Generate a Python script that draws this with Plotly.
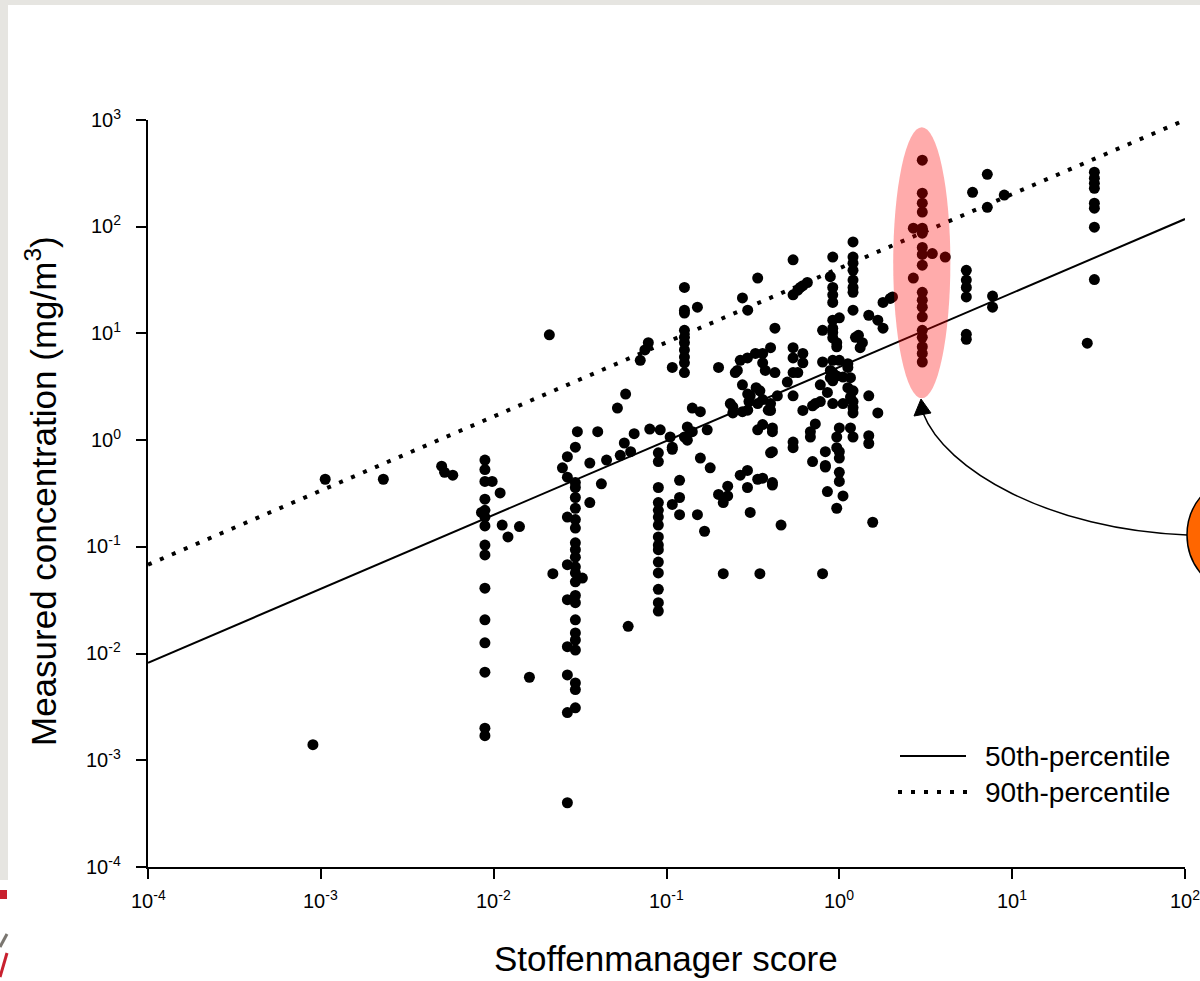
import math
import plotly.graph_objects as go

# ---------------- data ----------------
# Stoffenmanager score (x) and measured concentration in mg/m3 (y), by column group
left_x = [0.0009, 0.00106, 0.0023, 0.005, 0.0052, 0.0058]
left_y = [0.0014, 0.43, 0.43, 0.57, 0.50, 0.47]

c01_x = [0.0089, 0.0089, 0.0089, 0.0089, 0.0089, 0.0089, 0.0089, 0.0089, 0.0089, 0.0089,
         0.0089, 0.0089, 0.0089, 0.0089, 0.0089, 0.0085, 0.0098, 0.0109, 0.0112, 0.0121,
         0.0141, 0.0161, 0.021, 0.022]
c01_y = [0.65, 0.53, 0.41, 0.28, 0.22, 0.19, 0.157, 0.104, 0.084, 0.041,
         0.0207, 0.0126, 0.0067, 0.002, 0.0017, 0.21, 0.41, 0.32, 0.16, 0.124,
         0.155, 0.006, 9.7, 0.056]

c03_x = [0.0297, 0.0297, 0.0297, 0.0297, 0.0297, 0.0297, 0.0297, 0.0297, 0.0297, 0.0297,
         0.0297, 0.0297, 0.0297, 0.0297, 0.0297, 0.0297, 0.0297, 0.0297, 0.0297, 0.0297,
         0.0297, 0.0297, 0.0267, 0.0267, 0.0267, 0.0267, 0.0267, 0.0267, 0.0267, 0.0267,
         0.0267, 0.025, 0.0326]
c03_y = [0.86, 0.40, 0.36, 0.29, 0.23, 0.18, 0.15, 0.109, 0.094, 0.080,
         0.065, 0.057, 0.047, 0.035, 0.030, 0.0207, 0.0156, 0.0134, 0.0108, 0.0053,
         0.0046, 0.0031, 0.70, 0.45, 0.19, 0.068, 0.032, 0.0116, 0.0063, 0.0028,
         0.0004, 0.55, 0.051]

mid1_x = [0.036, 0.045, 0.036, 0.042, 0.0305, 0.040, 0.057, 0.054, 0.062, 0.065,
          0.080, 0.060, 0.052, 0.058, 0.0705, 0.0785, 0.075]
mid1_y = [0.61, 0.65, 0.26, 0.39, 1.2, 1.2, 0.94, 0.72, 0.78, 1.15,
          1.27, 0.018, 2.0, 2.7, 5.6, 8.2, 7.0]

c09_x = [0.0897, 0.0897, 0.0897, 0.0897, 0.0897, 0.0897, 0.0897, 0.0897, 0.0897, 0.0897,
         0.0897, 0.0897, 0.0897, 0.0897, 0.0897]
c09_y = [0.76, 0.63, 0.36, 0.26, 0.22, 0.19, 0.16, 0.124, 0.104, 0.094,
         0.072, 0.057, 0.040, 0.030, 0.025]

c1_x = [0.119, 0.119, 0.108, 0.119, 0.151, 0.108, 0.132, 0.092, 0.105, 0.108,
        0.166, 0.132, 0.141, 0.157, 0.172, 0.157, 0.179, 0.127, 0.141,
        0.127, 0.127, 0.127, 0.127, 0.127, 0.127, 0.127, 0.127, 0.127, 0.127,
        0.151, 0.108, 0.20]
c1_y = [0.42, 0.29, 0.25, 0.20, 0.20, 0.86, 1.0, 1.25, 1.07, 0.82,
        0.14, 1.33, 2.0, 1.85, 1.25, 0.68, 0.55, 1.07, 1.2,
        27, 16.5, 15.5, 10.7, 9.2, 8.2, 7.0, 6.0, 5.3, 4.3,
        17.6, 4.8, 4.8]

low_x = [0.213, 0.347, 0.80, 0.20, 0.226, 0.213, 0.226, 0.267, 0.294, 0.294,
         0.305, 0.337, 0.41, 0.46, 0.40, 0.337, 0.41, 0.54, 0.68, 0.70,
         0.83, 0.853, 0.36, 0.41, 0.36, 0.41, 0.41, 0.54, 0.68, 0.726,
         0.83, 0.83]
low_y = [0.056, 0.056, 0.056, 0.31, 0.30, 0.26, 0.37, 0.47, 0.52, 0.36,
         0.21, 0.43, 0.40, 0.16, 0.76, 1.25, 1.3, 0.96, 1.07, 0.63,
         0.58, 0.33, 0.44, 0.38, 1.4, 1.2, 0.78, 0.85, 1.2, 1.42,
         0.78, 0.56]

one_x = [0.966, 1.0, 1.0, 1.05, 0.966, 1.56, 1.48, 1.48, 1.67, 1.0,
         1.16, 1.2, 0.966, 1.0, 1.0, 1.2]
one_y = [0.85, 0.50, 0.41, 0.30, 0.23, 0.17, 1.1, 0.93, 1.8, 1.3,
         1.3, 1.07, 1.07, 0.78, 0.68, 1.8]

band_x = [0.242, 0.242, 0.275, 0.30, 0.305, 0.33, 0.347, 0.36, 0.40, 0.40,
          0.424, 0.275, 0.438, 0.50, 0.54, 0.575, 0.615, 0.70, 0.776, 0.776,
          0.853, 0.916, 0.916, 0.966, 1.05, 1.12, 1.2, 1.2, 1.48, 0.234,
          0.295, 0.337, 0.388, 0.54, 0.54, 0.25, 0.267, 0.294, 0.327, 0.36,
          0.40, 0.36, 0.373, 0.257, 0.615, 0.615, 0.80, 0.916, 0.966, 0.916,
          0.887, 1.0, 1.12, 1.16, 0.887, 0.916, 1.05, 1.12, 1.16, 1.2,
          0.726, 0.295, 0.54]
band_y = [2.05, 1.8, 1.85, 2.3, 2.6, 3.1, 2.9, 2.4, 2.2, 1.9,
          4.3, 3.3, 2.6, 3.5, 2.6, 4.3, 1.9, 2.1, 3.3, 2.3,
          2.8, 3.6, 4.3, 4.0, 3.9, 5.2, 2.9, 2.3, 2.6, 2.2,
          1.91, 2.2, 1.91, 7.35, 5.9, 4.3, 5.6, 5.9, 6.5, 6.5,
          7.35, 5.3, 4.5, 4.5, 6.5, 5.3, 5.4, 9.1, 7.5, 5.6,
          4.5, 5.6, 4.8, 3.85, 3.85, 2.2, 2.2, 3.1, 2.53, 2.02,
          2.2, 2.7, 4.3]

high_x = [0.337, 0.275, 0.295, 0.424, 0.54, 0.54, 0.594, 0.653, 0.575, 0.615,
          0.887, 0.916, 0.916, 0.916, 0.916, 0.916, 0.916, 0.916, 0.80, 0.966,
          1.0, 1.2, 1.2, 1.2, 1.2, 1.2, 1.2, 1.2, 1.2, 1.24,
          1.29, 1.36, 1.32, 1.48, 1.67, 1.79, 1.79, 1.97]
high_y = [33, 21.5, 16.5, 11.2, 49, 23, 27, 30, 25.4, 28,
          34, 27, 23, 19.5, 13.3, 52, 11.2, 10.2, 10.7, 8.2,
          14, 72, 52, 45.5, 39, 31.6, 27, 24.3, 16.5, 9.2,
          9.6, 8.2, 7.35, 14.8, 13.3, 11.2, 19.5, 21.3]

c3_x = [3.02, 3.02, 3.02, 3.02, 3.02, 3.02, 3.02, 3.02, 3.02, 3.02,
        3.02, 3.02, 3.02, 3.02, 3.02, 3.02, 3.02, 3.02, 2.68, 2.68,
        3.45, 4.1, 2.03]
c3_y = [420, 206, 166, 137, 97, 87, 64, 55, 43.6, 24.3,
        20.5, 17.6, 14.3, 10.7, 9.2, 7.5, 6.5, 5.4, 97, 33,
        56, 52, 22]

right_x = [5.43, 5.43, 5.43, 5.43, 5.43, 5.43, 7.7, 7.7, 7.18, 5.9,
           7.18, 9.0, 29.9, 29.9, 29.9, 29.9, 29.9, 29.9, 29.9, 29.9, 27.2]
right_y = [39, 31.6, 27, 22, 9.8, 8.8, 22.4, 17.6, 310, 210,
           152, 198, 324, 285, 255, 229, 166, 149, 99, 32, 8.1]

# fitted percentile lines (end points)
fit_x = [1e-4, 1e2]
p50_y = [0.0082, 118]
p90_y = [0.068, 1000]

# highlighted group (ellipse around score ~3)
ell_x = [2.05, 4.39]
ell_y = [2.47, 855]

x_ticks = [1e-4, 1e-3, 1e-2, 1e-1, 1e0, 1e1, 1e2]
x_ticktext = ["10<sup>-4</sup>", "10<sup>-3</sup>", "10<sup>-2</sup>", "10<sup>-1</sup>",
              "10<sup>0</sup>", "10<sup>1</sup>", "10<sup>2</sup>"]
y_ticks = [1e-4, 1e-3, 1e-2, 1e-1, 1e0, 1e1, 1e2, 1e3]
y_ticktext = ["10<sup>-4</sup>", "10<sup>-3</sup>", "10<sup>-2</sup>", "10<sup>-1</sup>",
              "10<sup>0</sup>", "10<sup>1</sup>", "10<sup>2</sup>", "10<sup>3</sup>"]

# ---------------- layout geometry ----------------
W, H = 1200, 981
ML, MR, MT, MB = 148, 15, 120, 114
PW = W - ML - MR
PH = H - MT - MB


def px(xp):
    return (xp - ML) / PW


def py(yp):
    return (H - MB - yp) / PH


FONT = "Liberation Sans, Arial, sans-serif"
DOT = "4px,9px"
TICK_SIZE = 20

all_x = left_x + c01_x + c03_x + mid1_x + c09_x + c1_x + low_x + one_x + band_x + high_x + c3_x + right_x
all_y = left_y + c01_y + c03_y + mid1_y + c09_y + c1_y + low_y + one_y + band_y + high_y + c3_y + right_y

fig = go.Figure()
fig.add_trace(go.Scatter(x=fit_x, y=p50_y, mode="lines",
                         line=dict(color="black", width=2), showlegend=False, hoverinfo="skip"))
fig.add_trace(go.Scatter(x=fit_x, y=p90_y, mode="lines",
                         line=dict(color="black", width=4, dash=DOT), showlegend=False, hoverinfo="skip"))
fig.add_trace(go.Scatter(x=all_x, y=all_y, mode="markers",
                         marker=dict(size=11, color="black", line=dict(width=0)),
                         showlegend=False, hoverinfo="skip"))

shapes = []
# slide frame strips
shapes.append(dict(type="rect", xref="paper", yref="paper", x0=px(0), x1=px(1200), y0=py(5), y1=py(0),
                   fillcolor="#e6e5e1", line_width=0, layer="below"))
shapes.append(dict(type="rect", xref="paper", yref="paper", x0=px(0), x1=px(8), y0=py(880), y1=py(0),
                   fillcolor="#e6e5e1", line_width=0, layer="below"))
# logo fragments bottom-left
shapes.append(dict(type="rect", xref="paper", yref="paper", x0=px(0), x1=px(7), y0=py(899), y1=py(890),
                   fillcolor="#c8202e", line_width=0, layer="above"))
shapes.append(dict(type="path", xref="paper", yref="paper",
                   path=f"M {px(0)},{py(947)} L {px(7)},{py(934)}",
                   line=dict(color="#7a7670", width=3), layer="above"))
shapes.append(dict(type="path", xref="paper", yref="paper",
                   path=f"M {px(0)},{py(977)} L {px(7)},{py(953)}",
                   line=dict(color="#c8202e", width=3), layer="above"))
# highlight ellipse
shapes.append(dict(type="circle", xref="x", yref="y", x0=ell_x[0], x1=ell_x[1], y0=ell_y[0], y1=ell_y[1],
                   fillcolor="rgba(255,0,0,0.33)", line_width=0, layer="above"))
# orange callout circle (mostly off the right edge)
shapes.append(dict(type="circle", xref="paper", yref="paper",
                   x0=px(1187), x1=px(1187 + 120), y0=py(535 + 60), y1=py(535 - 60),
                   fillcolor="#ff6600", line=dict(color="black", width=1.5), layer="above"))
# curved arrow
shapes.append(dict(type="path", xref="paper", yref="paper",
                   path=(f"M {px(1187)},{py(535)} C {px(1050)},{py(530)} {px(945)},{py(470)} "
                         f"{px(923)},{py(413)}"),
                   line=dict(color="black", width=1.5), layer="above"))
shapes.append(dict(type="path", xref="paper", yref="paper",
                   path=f"M {px(921)},{py(399)} L {px(914)},{py(416)} L {px(931)},{py(413)} Z",
                   fillcolor="black", line=dict(color="black", width=1), layer="above"))
# legend samples
shapes.append(dict(type="line", xref="paper", yref="paper", x0=px(900), x1=px(966), y0=py(756), y1=py(756),
                   line=dict(color="black", width=2)))
shapes.append(dict(type="line", xref="paper", yref="paper", x0=px(898), x1=px(968), y0=py(792), y1=py(792),
                   line=dict(color="black", width=4, dash=DOT)))

annotations = [
    dict(text="50th-percentile", x=px(983), y=py(756), xref="paper", yref="paper",
         xanchor="left", yanchor="middle", showarrow=False, font=dict(size=28, color="black", family=FONT)),
    dict(text="90th-percentile", x=px(983), y=py(792), xref="paper", yref="paper",
         xanchor="left", yanchor="middle", showarrow=False, font=dict(size=28, color="black", family=FONT)),
    dict(text="Stoffenmanager score", x=px(666), y=py(980), xref="paper", yref="paper",
         xanchor="center", yanchor="bottom", showarrow=False, font=dict(size=35, color="black", family=FONT)),
    dict(text="Measured concentration (mg/m<sup>3</sup>)", x=px(41), y=py(491), xref="paper", yref="paper",
         xanchor="center", yanchor="middle", textangle=-90, showarrow=False,
         font=dict(size=35, color="black", family=FONT)),
]

# tick labels placed through the axes (log axes take log10 positions for annotations)
for v, t in zip(x_ticks, x_ticktext):
    annotations.append(dict(text=t, x=math.log10(v), xref="x", y=py(899), yref="paper",
                            xanchor="center", yanchor="middle", showarrow=False,
                            font=dict(size=TICK_SIZE, color="black", family=FONT)))
for v, t in zip(y_ticks, y_ticktext):
    annotations.append(dict(text=t, x=px(123), xref="paper", y=math.log10(v), yref="y",
                            xanchor="right", yanchor="middle", yshift=2, showarrow=False,
                            font=dict(size=TICK_SIZE, color="black", family=FONT)))

axis_common = dict(type="log", showgrid=False, zeroline=False, showline=True, linecolor="black",
                   linewidth=2, ticks="outside", ticklen=10, tickwidth=2, tickcolor="black",
                   showticklabels=False, mirror=False, automargin=False)

fig.update_layout(
    width=W, height=H,
    margin=dict(l=ML, r=MR, t=MT, b=MB, pad=0, autoexpand=False),
    paper_bgcolor="white", plot_bgcolor="white",
    showlegend=False,
    xaxis=dict(range=[-4, 2], tickmode="array", tickvals=x_ticks, **axis_common),
    yaxis=dict(range=[-4, 3], tickmode="array", tickvals=y_ticks, **axis_common),
    shapes=shapes,
    annotations=annotations,
    font=dict(family=FONT, color="black"),
)

fig.write_html("out.html", config={"displayModeBar": False, "responsive": False},
               post_script="document.body.style.margin='0';document.body.style.overflow='hidden';")
